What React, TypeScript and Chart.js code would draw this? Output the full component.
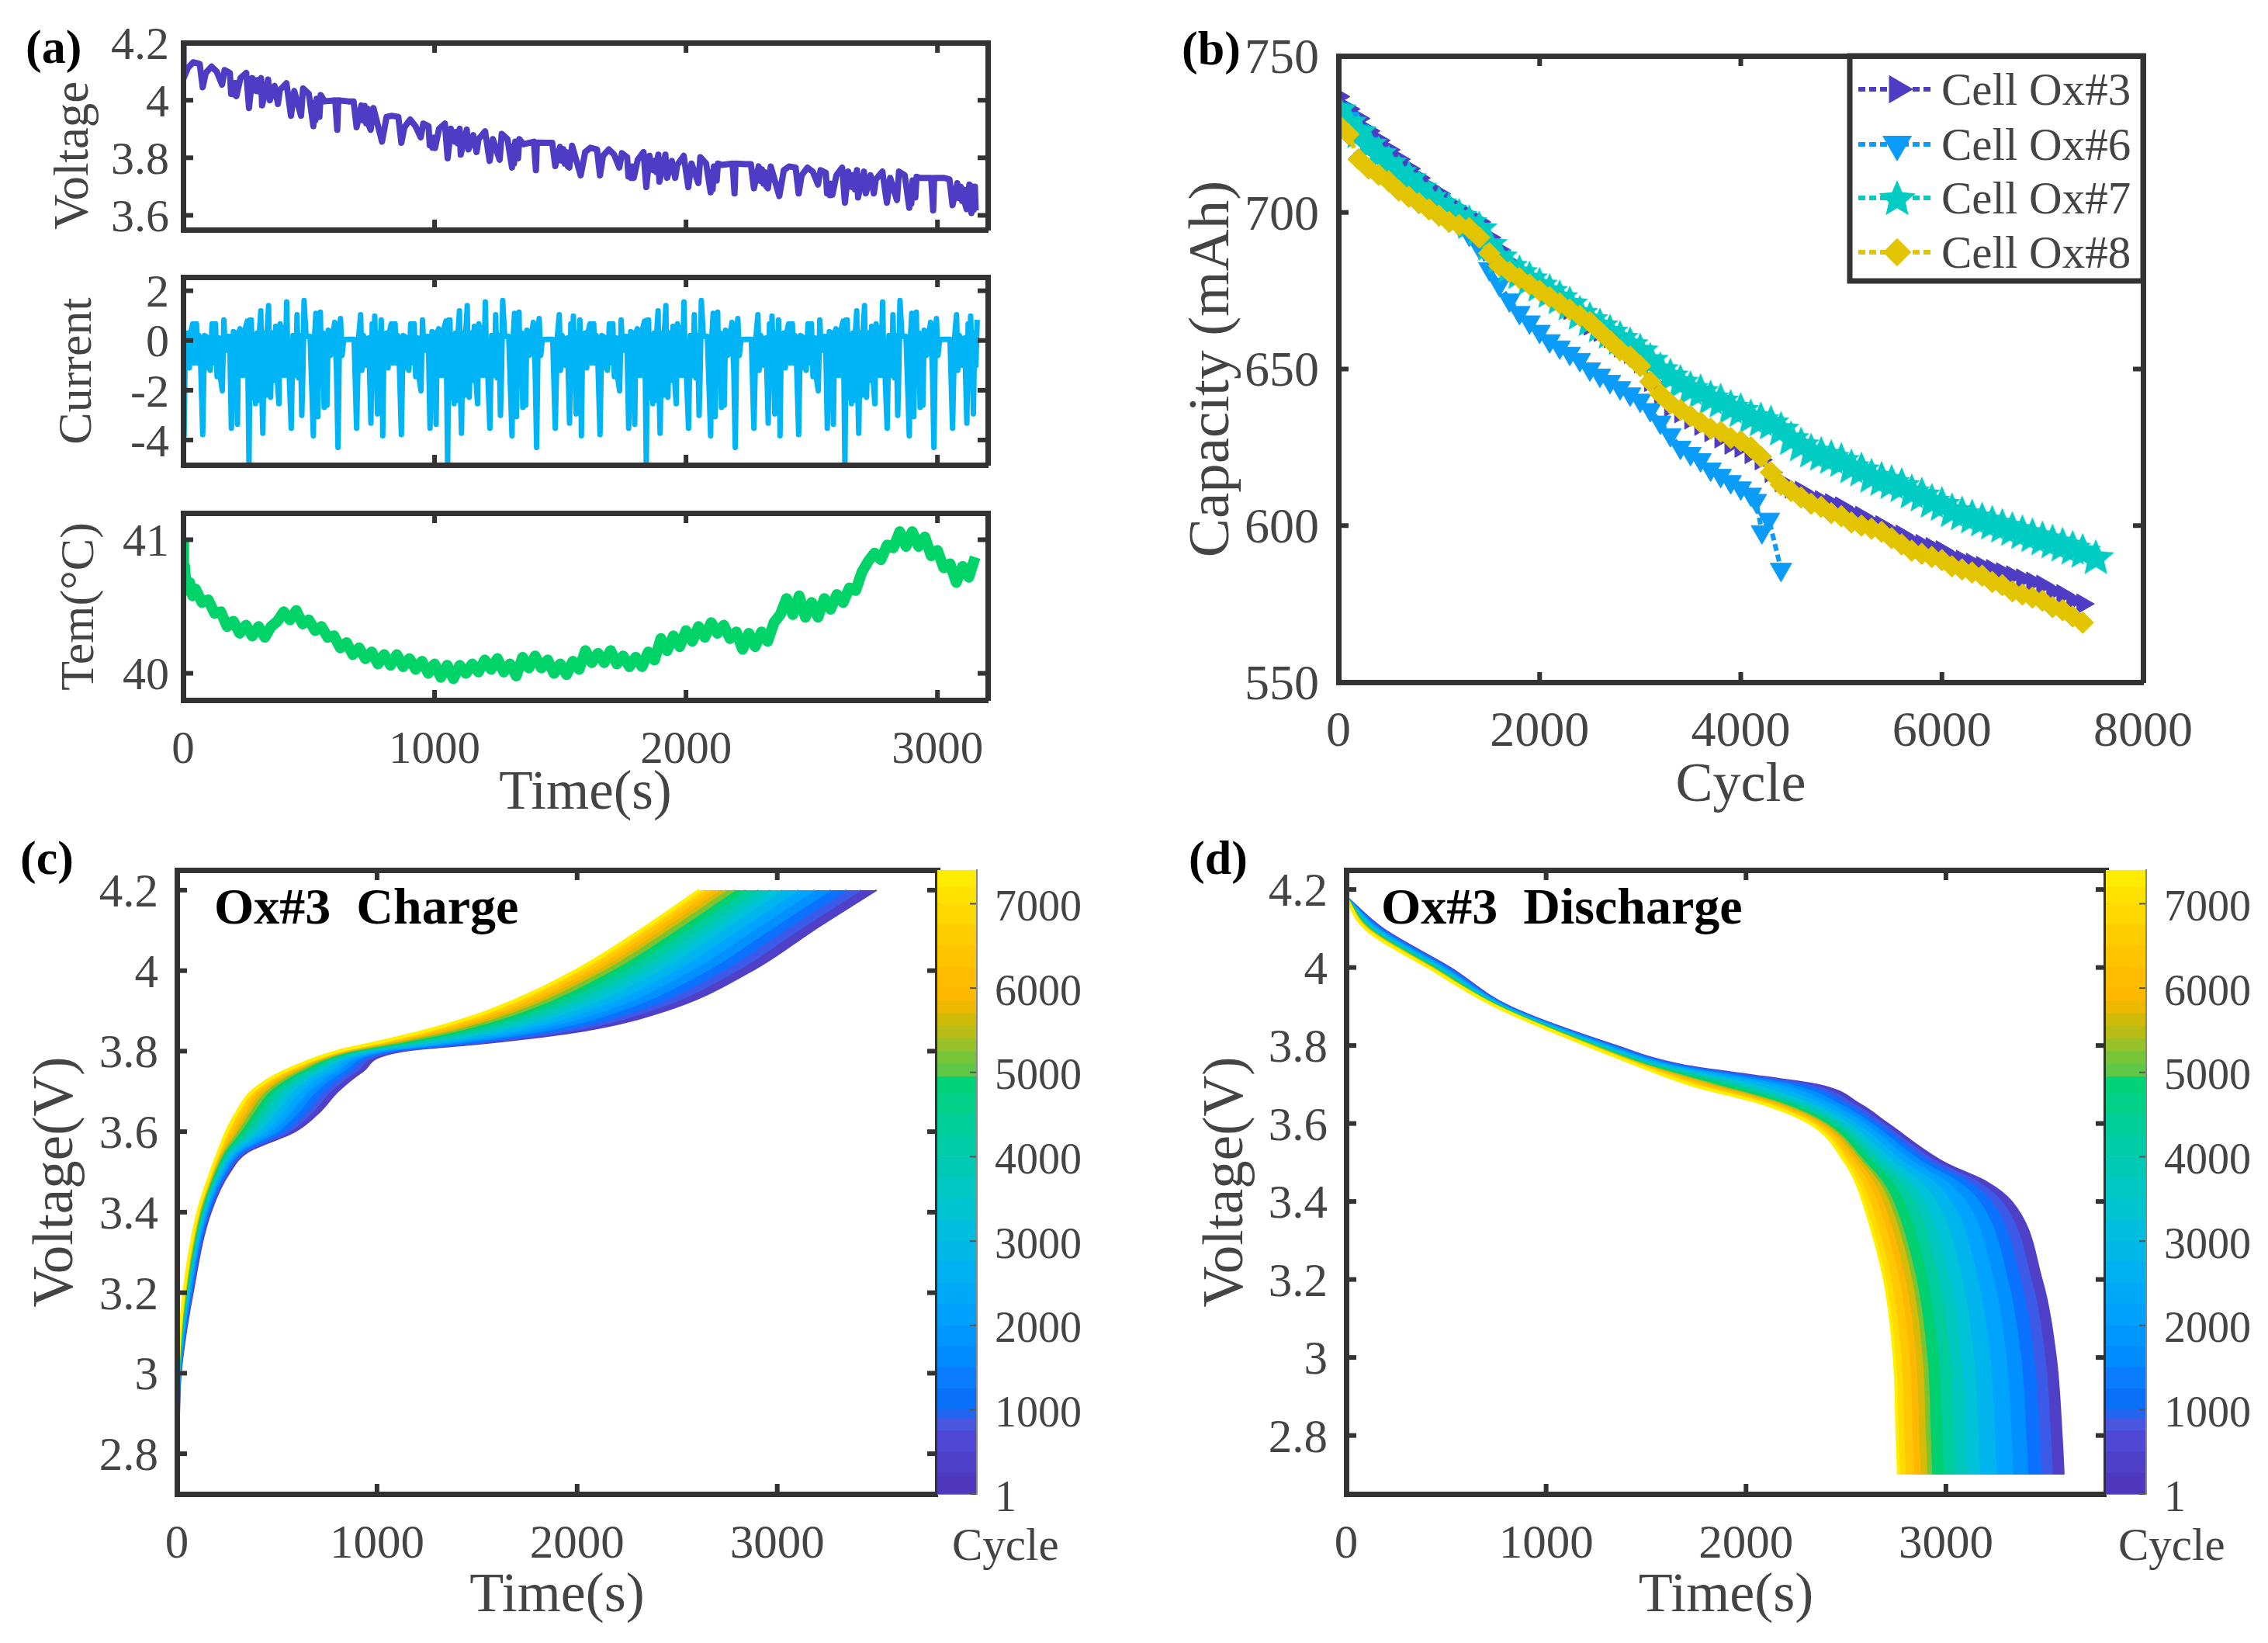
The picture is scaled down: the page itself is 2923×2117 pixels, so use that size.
import React, { useEffect, useRef } from 'react';
import { Chart, registerables } from 'chart.js';
import { drawPoint } from 'chart.js/helpers';

Chart.register(...registerables);

const SERIF = '"Liberation Serif"';
const INK = '#333333';
const LABEL = '#444444';

// (a) voltage, current and temperature against time
const timeTicks = [0, 1000, 2000, 3000];
const voltageTicksA = [3.6, 3.8, 4, 4.2];
const currentTicks = [-4, -2, 0, 2];
const tempTicks = [40, 41];

const voltageTimes = [
  0, 2, 19, 40, 66, 78, 90, 113, 134, 155, 165, 186, 191, 196, 202, 207, 212, 228, 251, 262, 275, 280, 285, 291, 296, 302, 306, 310, 314, 338, 345, 364, 377, 385, 411, 429, 442, 469, 477, 500, 518, 522, 526, 531, 542, 547, 563, 605, 613, 617, 657, 678, 690, 709, 716, 722, 728, 734, 740, 746, 757, 791,
  809, 830, 856, 868, 880, 903, 924, 945, 955, 976, 981, 986, 992, 997, 1002, 1018, 1041, 1052, 1065, 1070, 1075, 1081, 1086, 1092, 1096, 1100, 1104, 1128, 1135, 1154, 1167, 1175, 1201, 1219, 1232, 1259, 1267, 1290, 1308, 1312, 1316, 1321, 1332, 1337, 1353, 1395, 1403, 1407, 1447, 1468, 1480, 1499, 1506, 1512, 1518, 1524, 1530, 1536, 1547, 1581,
  1599, 1620, 1646, 1658, 1670, 1693, 1714, 1735, 1745, 1766, 1771, 1776, 1782, 1787, 1792, 1808, 1831, 1842, 1855, 1860, 1865, 1871, 1876, 1882, 1886, 1890, 1894, 1918, 1925, 1944, 1957, 1965, 1991, 2009, 2022, 2049, 2057, 2080, 2098, 2102, 2106, 2111, 2122, 2127, 2143, 2185, 2193, 2197, 2237, 2258, 2270, 2289, 2296, 2302, 2308, 2314, 2320, 2326, 2337, 2371,
  2389, 2410, 2436, 2448, 2460, 2483, 2504, 2525, 2535, 2556, 2561, 2566, 2572, 2577, 2582, 2598, 2621, 2632, 2645, 2650, 2655, 2661, 2666, 2672, 2676, 2680, 2684, 2708, 2715, 2734, 2747, 2755, 2781, 2799, 2812, 2839, 2847, 2870, 2888, 2892, 2896, 2901, 2912, 2917, 2933, 2975, 2983, 2987, 3027, 3048, 3060, 3079, 3086, 3092, 3098, 3104, 3110, 3116, 3127, 3131, 3135, 3140, 3145, 3149, 3152,
];
const voltageValues = [
  4.185, 4.077, 4.112, 4.132, 4.126, 4.045, 4.095, 4.117, 4.099, 4.054, 4.105, 4.095, 4.022, 4.06, 4.02, 4.06, 4.014, 4.077, 4.095, 3.973, 4.077, 4.04, 4.07, 4.032, 4.07, 4.03, 4.07, 4.077, 3.982, 4.072, 4.0, 4.05, 3.987, 4.036, 4.059, 3.946, 4.032, 3.946, 4.041, 4.022, 3.91, 3.99, 3.93, 4.005, 3.942, 4.018, 3.996, 4.0, 3.897, 4.0, 3.996, 3.996, 3.906, 3.982, 3.93, 3.98, 3.92, 3.97, 3.91, 3.897, 3.973, 3.856,
  3.942, 3.946, 3.942, 3.852, 3.906, 3.933, 3.91, 3.871, 3.919, 3.91, 3.843, 3.87, 3.835, 3.87, 3.834, 3.901, 3.919, 3.798, 3.901, 3.86, 3.89, 3.856, 3.89, 3.85, 3.89, 3.901, 3.811, 3.898, 3.829, 3.879, 3.82, 3.865, 3.892, 3.789, 3.865, 3.793, 3.883, 3.865, 3.766, 3.84, 3.78, 3.856, 3.798, 3.865, 3.847, 3.856, 3.757, 3.853, 3.852, 3.852, 3.771, 3.838, 3.79, 3.83, 3.78, 3.82, 3.77, 3.766, 3.842, 3.739,
  3.82, 3.835, 3.829, 3.739, 3.807, 3.829, 3.811, 3.766, 3.816, 3.802, 3.735, 3.77, 3.73, 3.77, 3.73, 3.793, 3.82, 3.698, 3.807, 3.76, 3.79, 3.757, 3.79, 3.75, 3.79, 3.811, 3.717, 3.811, 3.73, 3.789, 3.73, 3.775, 3.807, 3.698, 3.78, 3.712, 3.802, 3.78, 3.68, 3.75, 3.69, 3.77, 3.721, 3.78, 3.775, 3.78, 3.676, 3.78, 3.778, 3.778, 3.694, 3.77, 3.72, 3.76, 3.71, 3.75, 3.7, 3.694, 3.77, 3.667,
  3.757, 3.77, 3.766, 3.676, 3.739, 3.766, 3.752, 3.707, 3.757, 3.748, 3.676, 3.71, 3.67, 3.71, 3.671, 3.739, 3.766, 3.644, 3.752, 3.7, 3.74, 3.698, 3.74, 3.69, 3.74, 3.757, 3.662, 3.752, 3.676, 3.739, 3.676, 3.725, 3.752, 3.644, 3.73, 3.653, 3.752, 3.739, 3.626, 3.7, 3.64, 3.721, 3.662, 3.734, 3.73, 3.73, 3.617, 3.73, 3.73, 3.725, 3.635, 3.712, 3.66, 3.7, 3.65, 3.69, 3.64, 3.622, 3.707, 3.63, 3.608, 3.7, 3.62, 3.7, 3.617,
];

// the current trace is the same drive profile played four times over
const currentStarts = [0, 790, 1580, 2370];
const currentProfileTimes = [
  0, 4, 9, 14, 20, 25, 32, 38, 44, 49, 53, 58, 63, 70, 78, 85, 92, 97, 102, 108, 115, 120, 125, 129, 135, 143, 150, 156, 162, 168, 174, 185, 192, 200, 205, 210, 216, 221, 226, 231, 236, 241, 248, 255, 258, 262, 267, 271, 277, 283, 288, 294, 299, 304, 309, 313, 317, 323, 330, 335, 340, 344, 348, 354, 360, 368, 374, 381, 386, 392, 398, 405, 412, 417, 422, 430, 437, 443, 448, 453, 459, 466, 472, 477, 481, 489, 505, 518, 523, 528, 532, 536, 541, 546, 550, 556, 561, 566, 572, 577, 586, 594, 603, 610, 616, 622, 626, 632, 639, 680, 690, 698, 706, 711, 717, 723, 730, 738, 747, 752, 757, 762, 768, 773, 778, 783, 788,
];
const currentProfileValues = [
  0.05, -3.83, 0.05, -1.0, 0.3, -1.1, 0.4, 0.67, -0.9, 0.67, 0.67, -0.9, 0.2, -1.0, -3.78, 0.2, 0.16, -1.1, 0.1, -1.2, 0.67, -0.9, 0.67, 0.67, -1.45, 0.1, -1.6, -2.02, 0.83, -0.4, 0.16, 0.16, -3.52, 0.36, -1.2, 0.3, -3.37, 0.3, 0.47, -1.4, 0.4, -1.4, 0.5, 0.78, -1.5, -4.95, 0.83, 0.83, -2.3, 0.2, -2.54, 0.3, -2.4, 0.4, 1.19, -2.0, -3.73, 0.3, -2.2, 0.5, 1.4, -2.2, -2.28, 0.3, -1.6, 0.57, -1.5, -2.54, 0.67, -1.4, 0.5, -1.4, 1.55, -1.0, -1.45, -3.52, 0.2, 0.16, -1.4, 1.04, -1.5, 0.2, -3.01, -1.0, 1.61, 0.16, 0.16, -3.83, 0.2, 1.09, -1.8, -3.06, 0.3, 1.14, -1.8, 0.3, -2.69, 0.2, -2.6, 0.41, -0.6, 0.16, 0.73, -1.2, -4.3, 0.3, 0.88, -0.6, 0.05, 0.05, -3.52, 0.1, 1.04, -1.2, 0.2, 0.05, -1.0, 0.1, -3.32, 0.67, -1.2, 0.98, -1.0, -2.95, 0.3, -1.0, 0.83,
];

const tempTimes = [
  0, 2, 6, 14, 26, 38, 50, 75, 100, 125, 150, 175, 200, 225, 250, 275, 300, 325, 350, 375, 400, 425, 450, 475, 500, 525, 550, 575, 600, 625, 650, 675, 700, 725, 750, 775, 800, 825, 850, 875, 900, 925, 950, 975,
  1000, 1025, 1050, 1075, 1100, 1125, 1150, 1175, 1200, 1225, 1250, 1275, 1300, 1325, 1350, 1375, 1400, 1425, 1450, 1475, 1500, 1525, 1550, 1575, 1600, 1625, 1650, 1675, 1700, 1725, 1750, 1775, 1800, 1825, 1850, 1875, 1900, 1925, 1950, 1975,
  2000, 2025, 2050, 2075, 2100, 2125, 2150, 2175, 2200, 2225, 2250, 2275, 2300, 2325, 2350, 2375, 2400, 2425, 2450, 2475, 2500, 2525, 2550, 2575, 2600, 2625, 2650, 2675, 2700, 2725, 2750, 2775, 2800, 2825, 2850, 2875, 2900, 2925, 2950, 2975,
  3000, 3025, 3050, 3075, 3100, 3125, 3150,
];
const tempValues = [
  40.98, 40.65, 40.8, 40.62, 40.68, 40.58, 40.63, 40.53, 40.55, 40.45, 40.46, 40.35, 40.39, 40.3, 40.36, 40.28, 40.35, 40.27, 40.35, 40.39, 40.46, 40.4, 40.47, 40.37, 40.4, 40.32, 40.35, 40.27, 40.28, 40.19, 40.23, 40.14, 40.19, 40.11, 40.16, 40.07, 40.14, 40.06, 40.14, 40.05, 40.11, 40.03, 40.09, 40.0,
  40.07, 39.97, 40.06, 39.96, 40.06, 40.0, 40.07, 40.01, 40.1, 40.03, 40.11, 40.01, 40.07, 39.98, 40.12, 40.04, 40.13, 40.04, 40.1, 40.0, 40.07, 39.99, 40.09, 40.03, 40.17, 40.08, 40.15, 40.08, 40.17, 40.07, 40.13, 40.05, 40.12, 40.05, 40.16, 40.1, 40.26, 40.17, 40.28, 40.2,
  40.32, 40.24, 40.35, 40.27, 40.38, 40.3, 40.36, 40.26, 40.31, 40.18, 40.3, 40.2, 40.31, 40.24, 40.38, 40.44, 40.56, 40.44, 40.58, 40.42, 40.53, 40.42, 40.56, 40.48, 40.59, 40.53, 40.64, 40.62, 40.76, 40.84, 40.9, 40.85, 40.96, 40.94, 41.06, 40.95, 41.06, 40.95, 41.02, 40.88,
  40.92, 40.79, 40.82, 40.68, 40.8, 40.72, 40.87,
];

// (b) capacity fade
const cycleTicks = [0, 2000, 4000, 6000, 8000];
const capacityTicks = [550, 600, 650, 700, 750];
const seriesNames = ['Cell Ox#3', 'Cell Ox#6', 'Cell Ox#7', 'Cell Ox#8'];
const seriesColors = ['#4e3cc4', '#0a9cf8', '#00ccc4', '#e2c400'];

const cycles = [
  0, 100, 200, 300, 400, 500, 600, 700, 800, 900, 1000, 1100, 1200, 1300, 1400, 1500, 1600, 1700, 1800, 1900, 2000, 2100, 2200, 2300, 2400, 2500, 2600, 2700, 2800, 2900, 3000, 3100, 3200, 3300, 3400, 3500, 3600, 3700, 3800, 3900, 4000,
  4100, 4200, 4300, 4400, 4500, 4600, 4700, 4800, 4900, 5000, 5100, 5200, 5300, 5400, 5500, 5600, 5700, 5800, 5900, 6000, 6100, 6200, 6300, 6400, 6500, 6600, 6700, 6800, 6900, 7000, 7100, 7200, 7300, 7400,
];
const cyclesOx6 = [0, 100, 200, 300, 400, 500, 600, 700, 800, 900, 1000, 1100, 1200, 1300, 1400, 1500, 1600, 1700, 1800, 1900, 2000, 2100, 2200, 2300, 2400, 2500, 2600, 2700, 2800, 2900, 3000, 3100, 3200, 3300, 3400, 3500, 3600, 3700, 3800, 3900, 4000, 4100, 4150, 4210, 4280, 4400];
const cyclesOx7 = [...cycles, 7530];
const capacityOx3 = [737, 733, 730, 726, 723, 720, 717, 714, 711, 708, 706, 703, 701, 699, 697, 692, 688, 684, 681, 679, 677, 674, 672, 669, 667, 664, 662, 660, 657, 655, 652, 646, 642, 638, 636, 634, 632, 630, 628, 626, 625, 623, 621, 617, 614, 612, 611, 609, 608, 607, 606, 604, 603, 601, 600, 598, 597, 595, 594, 593, 592, 590, 589, 588, 587, 586, 585, 584, 583, 582, 581, 579, 578, 576, 575];
const capacityOx6 = [733, 730, 726, 722, 719, 715, 712, 709, 706, 703, 701, 698, 696, 693, 689, 682, 677, 672, 668, 665, 662, 659, 657, 655, 653, 650, 648, 646, 644, 642, 640, 637, 633, 629, 625, 623, 621, 618, 616, 614, 612, 610, 608, 598, 602, 586];
const capacityOx7 = [733, 729, 726, 722, 719, 716, 713, 711, 708, 705, 703, 701, 699, 697, 695, 690, 686, 683, 681, 679, 677, 675, 673, 671, 668, 666, 664, 662, 660, 658, 656, 653, 650, 648, 646, 644, 643, 641, 640, 638, 637, 635, 634, 633, 631, 628, 626, 624, 623, 622, 621, 619, 618, 616, 615, 614, 613, 611, 610, 608, 607, 605, 604, 603, 602, 601, 600, 599, 598, 597, 596, 595, 594, 593, 592, 590];
const capacityOx8 = [728, 725, 717, 714, 712, 710, 707, 705, 703, 701, 699, 697, 696, 695, 692, 687, 683, 681, 679, 677, 675, 673, 671, 669, 667, 665, 662, 659, 656, 654, 651, 646, 642, 639, 637, 635, 633, 631, 630, 628, 627, 625, 622, 617, 613, 611, 609, 607, 606, 604, 603, 601, 600, 599, 598, 596, 594, 592, 591, 590, 589, 587, 586, 585, 584, 582, 581, 579, 578, 577, 576, 574, 573, 571, 569];

// (c) and (d) voltage curves, one column per cycle, one row per voltage level
const curveVoltageTicks = [2.8, 3, 3.2, 3.4, 3.6, 3.8, 4, 4.2];
const curveTimeTicks = [0, 1000, 2000, 3000];
const colorbarTicks = [1, 1000, 2000, 3000, 4000, 5000, 6000, 7000];
const curveCycles = [7400, 7000, 6500, 6000, 5500, 5000, 4500, 4000, 3500, 3000, 2500, 2000, 1500, 1000, 500, 1];
const curveColors = ['#fff000', '#ffdc00', '#ffc800', '#ffb800', '#d8ba08', '#7cc430', '#00d070', '#00cc9c', '#00c8bc', '#00c2d8', '#00b4ee', '#00a4ff', '#0090ff', '#0a72ff', '#3c5ae8', '#5040c8'];

const chargeLevels = [2.72, 2.9, 3.0, 3.2, 3.4, 3.5, 3.55, 3.6, 3.65, 3.7, 3.75, 3.8, 3.82, 3.85, 3.9, 4.0, 4.1, 4.2];
const chargeTimes = [
  [0, 0, 0, 1, 1, 1, 1, 1, 1, 2, 2, 2, 2, 3, 3, 3],
  [2, 2, 3, 3, 4, 4, 5, 6, 7, 8, 9, 9, 10, 11, 11, 12],
  [5, 5, 6, 7, 7, 8, 9, 10, 11, 12, 13, 15, 16, 17, 19, 20],
  [35, 36, 38, 40, 42, 44, 47, 50, 53, 56, 60, 64, 68, 72, 76, 80],
  [105, 107, 110, 112, 115, 118, 122, 126, 131, 136, 141, 147, 153, 159, 164, 170],
  [170, 173, 177, 181, 184, 189, 195, 202, 208, 215, 224, 232, 241, 250, 257, 266],
  [208, 212, 218, 224, 230, 238, 246, 257, 267, 278, 291, 304, 318, 331, 343, 356],
  [248, 258, 272, 286, 299, 316, 337, 361, 385, 409, 440, 470, 501, 532, 559, 590],
  [302, 314, 331, 348, 364, 385, 410, 439, 468, 497, 534, 571, 608, 646, 679, 716],
  [375, 388, 405, 422, 440, 461, 487, 517, 547, 577, 616, 655, 693, 732, 766, 805],
  [536, 548, 564, 579, 595, 615, 638, 666, 694, 721, 757, 792, 828, 863, 895, 930],
  [805, 815, 828, 841, 854, 870, 889, 912, 935, 958, 987, 1016, 1046, 1075, 1101, 1130],
  [985, 1002, 1025, 1047, 1070, 1098, 1132, 1171, 1211, 1251, 1301, 1352, 1403, 1454, 1499, 1550],
  [1237, 1261, 1293, 1324, 1356, 1396, 1443, 1499, 1554, 1610, 1681, 1752, 1824, 1895, 1959, 2030],
  [1560, 1586, 1622, 1657, 1692, 1736, 1789, 1850, 1912, 1974, 2053, 2132, 2211, 2290, 2361, 2440],
  [1993, 2019, 2055, 2090, 2125, 2169, 2222, 2284, 2346, 2408, 2487, 2566, 2646, 2725, 2796, 2875],
  [2317, 2343, 2377, 2412, 2446, 2490, 2541, 2602, 2662, 2723, 2800, 2878, 2956, 3033, 3102, 3180],
  [2611, 2638, 2673, 2708, 2744, 2788, 2841, 2905, 2965, 3027, 3107, 3187, 3267, 3346, 3417, 3497],
];

const dischargeLevels = [2.7, 2.8, 3.0, 3.2, 3.4, 3.45, 3.5, 3.6, 3.65, 3.7, 3.72, 3.75, 3.8, 3.9, 4.0, 4.1, 4.18];
const dischargeTimes = [
  [2763, 2796, 2837, 2871, 2904, 2928, 2986, 3044, 3102, 3168, 3251, 3334, 3408, 3474, 3532, 3590],
  [2756, 2789, 2830, 2863, 2896, 2921, 2978, 3036, 3094, 3160, 3242, 3325, 3399, 3465, 3522, 3580],
  [2742, 2774, 2815, 2847, 2880, 2904, 2960, 3017, 3074, 3138, 3219, 3300, 3373, 3438, 3494, 3551],
  [2693, 2724, 2764, 2795, 2827, 2850, 2905, 2961, 3016, 3079, 3157, 3236, 3307, 3370, 3425, 3480],
  [2587, 2617, 2654, 2683, 2713, 2735, 2787, 2839, 2891, 2951, 3025, 3099, 3166, 3225, 3277, 3329],
  [2551, 2577, 2610, 2636, 2662, 2682, 2728, 2773, 2819, 2871, 2937, 3002, 3061, 3113, 3159, 3205],
  [2498, 2518, 2543, 2562, 2582, 2597, 2632, 2666, 2701, 2741, 2790, 2840, 2884, 2924, 2958, 2993],
  [2322, 2338, 2357, 2372, 2388, 2400, 2427, 2454, 2481, 2512, 2551, 2590, 2625, 2656, 2683, 2710],
  [2092, 2111, 2135, 2154, 2173, 2187, 2221, 2254, 2288, 2326, 2373, 2421, 2464, 2502, 2536, 2569],
  [1720, 1745, 1777, 1803, 1828, 1847, 1892, 1937, 1981, 2032, 2096, 2160, 2217, 2268, 2312, 2357],
  [1610, 1629, 1653, 1672, 1692, 1706, 1740, 1773, 1807, 1845, 1893, 1941, 1984, 2023, 2056, 2090],
  [1456, 1465, 1477, 1486, 1495, 1502, 1518, 1534, 1550, 1568, 1591, 1614, 1635, 1653, 1669, 1685],
  [1208, 1214, 1221, 1226, 1232, 1236, 1246, 1256, 1266, 1278, 1292, 1306, 1319, 1330, 1340, 1350],
  [750, 753, 756, 759, 762, 764, 769, 774, 779, 784, 791, 798, 805, 810, 815, 820],
  [413, 417, 423, 427, 431, 434, 442, 449, 457, 465, 476, 487, 496, 505, 513, 520],
  [95, 99, 103, 107, 110, 113, 119, 125, 131, 139, 148, 156, 164, 172, 178, 184],
  [0, 0, 0, 1, 1, 1, 1, 2, 2, 2, 3, 3, 4, 4, 5, 5],
];

// colour bar, read from bottom to top
const colorbarEdges = [1, 250, 500, 750, 900, 1000, 1250, 1500, 1750, 2000, 2250, 2500, 2750, 3000, 3250, 3500, 3750, 4000, 4250, 4500, 4750, 4950, 5100, 5250, 5400, 5550, 5700, 5850, 6000, 6250, 6500, 6750, 7000, 7200, 7400];
const colorbarColors = ['#4f38bc', '#5040c8', '#5048d4', '#4a56e0', '#2266f0', '#0a70fa', '#0a7cff', '#008cff', '#0096ff', '#00a0ff', '#00a8f8', '#00b0f0', '#00b8e8', '#00bede', '#00c4d0', '#00c8c4', '#00cab4', '#00cca8', '#00ce98', '#00d088', '#00d278', '#60c848', '#78c438', '#98c028', '#b8bc14', '#d0ba08', '#ecb800', '#ffb800', '#ffbc00', '#ffc400', '#ffcc00', '#ffd800', '#ffe200', '#ffec00'];

const zip = (xs: number[], ys: number[]) => xs.map((x, i) => ({ x, y: ys[i] }));

const currentPoints = currentStarts.flatMap((start) =>
  currentProfileTimes.map((t, i) => ({ x: start + t, y: currentProfileValues[i] })),
);

const makeStar = (size: number, color: string) => {
  const c = document.createElement('canvas');
  c.width = size;
  c.height = size;
  const ctx = c.getContext('2d')!;
  ctx.fillStyle = color;
  ctx.beginPath();
  for (let i = 0; i < 10; i++) {
    const r = i % 2 === 0 ? size / 2 : size / 4.4;
    const a = (Math.PI / 5) * i - Math.PI / 2;
    ctx.lineTo(size / 2 + r * Math.cos(a), size / 2 + r * Math.sin(a) + size * 0.04);
  }
  ctx.closePath();
  ctx.fill();
  return c;
};

// MATLAB style ticks, pointing into the plot from all four sides
const inwardTicks: any = {
  id: 'inwardTicks',
  afterDatasetsDraw(chart: any, _args: any, opts: any) {
    const { ctx, chartArea } = chart;
    ctx.save();
    ctx.strokeStyle = opts.color;
    ctx.lineWidth = opts.width;
    Object.values(chart.scales).forEach((scale: any) => {
      if (scale.type !== 'linear') return;
      scale.ticks.forEach((tick: any) => {
        const p = scale.getPixelForValue(tick.value);
        ctx.beginPath();
        if (scale.isHorizontal()) {
          const y = scale.position === 'top' ? chartArea.top : chartArea.bottom;
          ctx.moveTo(p, y);
          ctx.lineTo(p, scale.position === 'top' ? y + opts.length : y - opts.length);
        } else {
          const x = scale.position === 'right' ? chartArea.right : chartArea.left;
          ctx.moveTo(x, p);
          ctx.lineTo(scale.position === 'right' ? x - opts.length : x + opts.length, p);
        }
        ctx.stroke();
      });
    });
    ctx.restore();
  },
};

const fixedSize = (size: number) => (s: any) => {
  if (s.isHorizontal()) s.height = size;
  else s.width = size;
  s.paddingLeft = s.paddingRight = s.paddingTop = s.paddingBottom = 0;
};

interface AxisOpts {
  position: string;
  min: number;
  max: number;
  values: number[];
  size?: number;
  fontSize?: number;
  gap?: number;
  title?: any;
}

const axis = ({ position, min, max, values, size = 0, fontSize = 0, gap = 0, title }: AxisOpts) => ({
  type: 'linear',
  position,
  min,
  max,
  afterBuildTicks: (s: any) => {
    s.ticks = values.map((value) => ({ value }));
  },
  afterFit: fixedSize(size),
  grid: { drawOnChartArea: false, drawTicks: false },
  border: { color: INK, width: 7, z: 1 },
  ticks: {
    display: fontSize > 0,
    autoSkip: false,
    maxRotation: 0,
    minRotation: 0,
    padding: gap,
    labelOffset: position === 'left' ? 5 : 0,
    color: LABEL,
    font: { family: SERIF, size: fontSize || 12 },
    callback: (v: number) => String(v),
  },
  title: title
    ? {
        display: true,
        text: title.text,
        align: title.align || 'center',
        color: LABEL,
        padding: 0,
        font: { family: SERIF, size: title.size, lineHeight: 1 },
      }
    : { display: false },
});

const baseOptions = (padding: any, scales: any, extra: any = {}) => ({
  animation: false,
  responsive: false,
  devicePixelRatio: 1,
  layout: { padding: { top: padding.top, right: padding.right, left: 0, bottom: 0 } },
  plugins: {
    legend: { display: false },
    tooltip: { enabled: false },
    inwardTicks: { length: 13, width: 6, color: INK },
  },
  elements: { point: { radius: 0 }, line: { tension: 0 } },
  scales,
  ...extra,
});

const boxFor = (plot: any, g: any) => ({
  left: plot.left - g.left,
  top: plot.top - g.top,
  width: plot.right - plot.left + g.left + g.right,
  height: plot.bottom - plot.top + g.top + g.bottom,
});

const frameScales = (
  xLim: number[], yLim: number[], xVals: number[], yVals: number[], g: any,
  xTitle?: any, yTitle?: any, xFont = 0, yFont = 0, xGap = 0, yGap = 0,
) => ({
  x: axis({ position: 'bottom', min: xLim[0], max: xLim[1], values: xVals, size: g.bottom, fontSize: xFont, gap: xGap, title: xTitle }),
  y: axis({ position: 'left', min: yLim[0], max: yLim[1], values: yVals, size: g.left, fontSize: yFont, gap: yGap, title: yTitle }),
  x2: axis({ position: 'top', min: xLim[0], max: xLim[1], values: xVals }),
  y2: axis({ position: 'right', min: yLim[0], max: yLim[1], values: yVals }),
});

// --- panel (a)
const strip = (plot: any, g: any, color: string, points: any[], yLim: number[], yVals: number[], yTitle: any, xTitle?: any, width = 6) => ({
  box: boxFor(plot, g),
  config: {
    type: 'line',
    data: { datasets: [{ data: points, borderColor: color, borderWidth: width, xAxisID: 'x', yAxisID: 'y', borderJoinStyle: 'round' }] },
    options: baseOptions(g, frameScales([0, 3200], yLim, timeTicks, yVals, g, xTitle, yTitle, xTitle ? 59 : 0, 60, 30, 18)),
    plugins: [inwardTicks],
  },
});

const stripA1 = strip({ left: 236, top: 55, right: 1273, bottom: 296 }, { left: 171, right: 60, top: 30, bottom: 20 }, '#4e3cc4', zip(voltageTimes, voltageValues), [3.55, 4.2], voltageTicksA, { text: 'Voltage', size: 63, align: 'start' }, undefined, 8);
const stripA2 = strip({ left: 236, top: 357, right: 1273, bottom: 599 }, { left: 166, right: 60, top: 30, bottom: 20 }, '#00b4f5', currentPoints, [-5, 2.55], currentTicks, { text: 'Current', size: 62 }, undefined, 7);
const stripA3 = strip({ left: 236, top: 661, right: 1273, bottom: 902 }, { left: 163, right: 60, top: 30, bottom: 157 }, '#00d468', zip(tempTimes, tempValues), [39.8, 41.2], tempTicks, { text: 'Tem(°C)', size: 62 }, { text: 'Time(s)', size: 71 }, 14);

// --- panel (b)
const legendBox: any = {
  id: 'legendBox',
  afterDatasetsDraw(chart: any) {
    const { ctx, chartArea } = chart;
    const left = chartArea.right - 378;
    const top = chartArea.top;
    ctx.save();
    ctx.fillStyle = '#ffffff';
    ctx.fillRect(left, top, 378, 290);
    ctx.strokeStyle = INK;
    ctx.lineWidth = 7;
    ctx.strokeRect(left, top, 378, 290);
    const rows = [43, 114, 183, 253];
    seriesNames.forEach((name, i) => {
      const y = top + rows[i];
      const ds = chart.data.datasets[i];
      ctx.strokeStyle = seriesColors[i];
      ctx.fillStyle = seriesColors[i];
      ctx.lineWidth = 6;
      ctx.setLineDash([9, 5]);
      ctx.beginPath();
      ctx.moveTo(left + 11, y);
      ctx.lineTo(left + 107, y);
      ctx.stroke();
      ctx.setLineDash([]);
      drawPoint(ctx, { radius: ds.pointRadius, pointStyle: ds.pointStyle, rotation: ds.pointRotation || 0, borderWidth: 1 }, left + 61, y);
      ctx.fillStyle = LABEL;
      ctx.font = `59px ${SERIF}`;
      ctx.textBaseline = 'middle';
      ctx.fillText(name, left + 118, y + 4);
    });
    ctx.restore();
  },
};

const capacityDataset = (i: number, xs: number[], ys: number[], pointStyle: any, pointRadius: number, pointRotation = 0) => ({
  label: seriesNames[i],
  data: zip(xs, ys),
  borderColor: seriesColors[i],
  backgroundColor: seriesColors[i],
  borderWidth: 6,
  borderDash: [9, 5],
  pointStyle,
  pointRadius,
  pointRotation,
  pointBorderWidth: 1,
  pointBorderColor: seriesColors[i],
  pointBackgroundColor: seriesColors[i],
  order: 4 - i,
  xAxisID: 'x',
  yAxisID: 'y',
});

const plotB = { left: 1725, top: 72, right: 2762, bottom: 879 };
const gutB = { left: 199, right: 80, top: 30, bottom: 170 };

const makePanelB = () => ({
  box: boxFor(plotB, gutB),
  config: {
    type: 'line',
    data: {
      datasets: [
        capacityDataset(0, cycles, capacityOx3, 'triangle', 15, 90),
        capacityDataset(1, cyclesOx6, capacityOx6, 'triangle', 16, 180),
        capacityDataset(2, cyclesOx7, capacityOx7, makeStar(50, seriesColors[2]), 24),
        capacityDataset(3, cycles, capacityOx8, 'rectRot', 14),
      ],
    },
    options: baseOptions(gutB, frameScales([0, 8000], [550, 750], cycleTicks, capacityTicks, gutB, { text: 'Cycle', size: 72 }, { text: 'Capacity (mAh)', size: 75 }, 64, 64, 27, 25)),
    plugins: [inwardTicks, legendBox],
  },
});

// --- panels (c) and (d): neighbouring cycles are joined with the line fill
const curveDatasets = (levels: number[], table: number[][]) =>
  curveCycles.map((cycle, col) => ({
    label: String(cycle),
    data: levels.map((y, row) => ({ x: table[row][col], y })),
    borderColor: curveColors[col],
    backgroundColor: curveColors[col],
    borderWidth: col === 0 ? 4 : 2,
    cubicInterpolationMode: 'monotone',
    fill: col === 0 ? false : '-1',
    xAxisID: 'x',
    yAxisID: 'y',
  }));

const curvePanel = (plot: any, g: any, levels: number[], table: number[][], yLim: number[]) => ({
  box: boxFor(plot, g),
  config: {
    type: 'line',
    data: { datasets: curveDatasets(levels, table) },
    options: baseOptions(g, frameScales([0, 3800], yLim, curveTimeTicks, curveVoltageTicks, g, { text: 'Time(s)', size: 72 }, { text: 'Voltage(V)', size: 73 }, 61, 61, 29, 24), { indexAxis: 'y' }),
    plugins: [inwardTicks],
  },
});

const panelC = curvePanel({ left: 228, top: 1121, right: 1208, bottom: 1925 }, { left: 191, right: 30, top: 30, bottom: 168 }, chargeLevels, chargeTimes, [2.7, 4.25]);
const panelD = curvePanel({ left: 1735, top: 1121, right: 2714, bottom: 1925 }, { left: 190, right: 30, top: 30, bottom: 168 }, dischargeLevels, dischargeTimes, [2.65, 4.25]);

const colorbarPanel = (plot: any) => {
  const g = { left: 0, right: 170, top: 30, bottom: 30 };
  const options: any = baseOptions({ top: g.top, right: 0 }, {
    x: { display: true, afterFit: fixedSize(g.bottom), ticks: { display: false }, grid: { display: false }, border: { color: '#888888', width: 2 } },
    y: {
      type: 'linear',
      position: 'right',
      min: 1,
      max: 7400,
      afterBuildTicks: (s: any) => {
        s.ticks = colorbarTicks.map((value) => ({ value }));
      },
      afterFit: fixedSize(g.right),
      grid: { drawOnChartArea: false, drawTicks: false },
      border: { color: '#888888', width: 2, z: 1 },
      ticks: {
        autoSkip: false,
        padding: 23,
        labelOffset: 7,
        color: LABEL,
        font: { family: SERIF, size: 56 },
        callback: (v: number) => String(v),
      },
    },
  });
  options.plugins.inwardTicks = { length: 9, width: 2, color: '#555555' };
  return {
    box: boxFor(plot, g),
    config: {
      type: 'bar',
      data: {
        labels: ['Cycle'],
        datasets: colorbarColors.map((color, i) => ({
          data: [[colorbarEdges[i], colorbarEdges[i + 1]]],
          backgroundColor: color,
          borderWidth: 0,
          barPercentage: 1,
          categoryPercentage: 1,
          grouped: false,
          xAxisID: 'x',
          yAxisID: 'y',
        })),
      },
      options,
      plugins: [inwardTicks],
    },
  };
};

const barC = colorbarPanel({ left: 1208, top: 1121, right: 1259, bottom: 1925 });
const barD = colorbarPanel({ left: 2714, top: 1121, right: 2766, bottom: 1925 });

const notes = [
  { text: '(a)', x: 33, y: 60, size: 62, bold: true },
  { text: '(b)', x: 1523, y: 62, size: 62, bold: true },
  { text: '(c)', x: 26, y: 1105, size: 62, bold: true },
  { text: '(d)', x: 1532, y: 1105, size: 62, bold: true },
  { text: 'Ox#3  Charge', x: 276, y: 1168, size: 66, bold: true },
  { text: 'Ox#3  Discharge', x: 1780, y: 1168, size: 66, bold: true },
  { text: 'Cycle', x: 1227, y: 1990, size: 59, bold: false },
  { text: 'Cycle', x: 2730, y: 1990, size: 59, bold: false },
];

const ChartCanvas: React.FC<{ panel: () => any }> = ({ panel }) => {
  const ref = useRef<HTMLCanvasElement>(null);
  const made = useRef<any>(null);
  if (!made.current) made.current = panel();
  const { box, config } = made.current;

  useEffect(() => {
    if (!ref.current) return;
    const chart = new Chart(ref.current, config);
    return () => chart.destroy();
  }, [config]);

  return (
    <canvas
      ref={ref}
      width={box.width}
      height={box.height}
      style={{ position: 'absolute', left: box.left, top: box.top, width: box.width, height: box.height }}
    />
  );
};

const panels = [() => stripA1, () => stripA2, () => stripA3, makePanelB, () => panelC, () => panelD, () => barC, () => barD];

export default function App() {
  return (
    <div style={{ position: 'absolute', left: 0, top: 0, width: 2923, height: 2117, background: '#ffffff', overflow: 'hidden' }}>
      {panels.map((panel, i) => (
        <ChartCanvas key={i} panel={panel} />
      ))}
      {notes.map((n) => (
        <div
          key={n.text + n.x}
          style={{
            position: 'absolute',
            left: n.x,
            top: n.y - n.size / 2,
            fontFamily: SERIF,
            fontSize: n.size,
            lineHeight: 1,
            fontWeight: n.bold ? 'bold' : 'normal',
            color: n.bold ? '#000000' : LABEL,
            whiteSpace: 'pre',
          }}
        >
          {n.text}
        </div>
      ))}
    </div>
  );
}
